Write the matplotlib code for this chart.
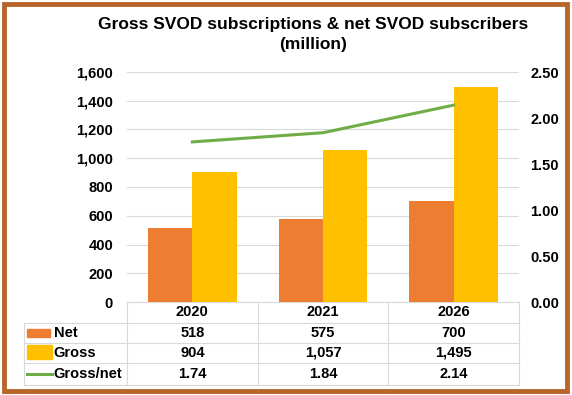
import matplotlib.pyplot as plt
import numpy as np
from matplotlib.patches import Rectangle
from matplotlib.lines import Line2D

plt.rcParams['font.family'] = ['Liberation Sans', 'DejaVu Sans']
plt.rcParams['font.weight'] = 'bold'

years = ["2020", "2021", "2026"]
net = [518, 575, 700]
gross = [904, 1057, 1495]
ratio = [1.74, 1.84, 2.14]
row_names = ["Net", "Gross", "Gross/net"]

c_net = "#ED7D31"
c_gross = "#FFC000"
c_ratio = "#70AD47"
c_grid = "#D9D9D9"

W, H = 572, 395
fig = plt.figure(figsize=(W / 100, H / 100), dpi=100)

# frame around the whole chart
fig.patches.append(Rectangle((4 / W, 4 / H), (W - 9) / W, (H - 8) / H,
                             transform=fig.transFigure, fill=False,
                             edgecolor="#B8652A", linewidth=3.5))

fig.text(313 / W, 1 - 24 / H, "Gross SVOD subscriptions & net SVOD subscribers",
         ha="center", va="center", fontsize=12.5, fontweight="bold")
fig.text(313 / W, 1 - 45 / H, "(million)", ha="center", va="center",
         fontsize=12.5, fontweight="bold")

left, right, top, bottom = 127, 519, 72, 302
ax = fig.add_axes([left / W, 1 - bottom / H, (right - left) / W, (bottom - top) / H])
ax2 = ax.twinx()

x = np.arange(len(years))
bw = 0.34
ax.bar(x - bw / 2, net, width=bw, color=c_net, zorder=3)
ax.bar(x + bw / 2, gross, width=bw, color=c_gross, zorder=3)
ax2.plot(x, ratio, color=c_ratio, linewidth=2.2)

ax.set_xlim(-0.5, 2.5)
ax.set_ylim(0, 1600)
ax.set_yticks(np.arange(0, 1601, 200))
ax.set_yticklabels([f"{v:,}" for v in range(0, 1601, 200)])
ax2.set_ylim(0, 2.5)
ax2.set_yticks(np.arange(0, 2.51, 0.5))
ax2.set_yticklabels([f"{v:.2f}" for v in np.arange(0, 2.51, 0.5)])
ax.grid(axis="y", color=c_grid, linewidth=0.8, zorder=0)
ax.set_xticks([])
for a in (ax, ax2):
    for s in a.spines.values():
        s.set_visible(False)
    a.tick_params(axis="y", length=0, labelsize=10.5)
ax.tick_params(axis="y", pad=10)
ax2.tick_params(axis="y", pad=8)

# data table below the plot
tr = ax.get_xaxis_transform()
row_y = [0, -0.0913, -0.178, -0.265, -0.361]
label_left = -1.29
kw = dict(color=c_grid, linewidth=0.8, transform=tr, clip_on=False)
ax.add_line(Line2D([-0.5, 2.5], [0, 0], **kw))
for yy in row_y[1:]:
    ax.add_line(Line2D([label_left, 2.5], [yy, yy], **kw))
for xx in [-0.5, 0.5, 1.5, 2.5]:
    ax.add_line(Line2D([xx, xx], [0, row_y[-1]], **kw))
ax.add_line(Line2D([label_left, label_left], [row_y[1], row_y[-1]], **kw))

centers = [(row_y[i] + row_y[i + 1]) / 2 for i in range(4)]
for i, yr in enumerate(years):
    ax.text(i, centers[0], yr, transform=tr, ha="center", va="center",
            fontsize=10.5, fontweight="bold")
for r, vals in enumerate([net, gross, ratio]):
    for i, v in enumerate(vals):
        s = f"{v:.2f}" if r == 2 else f"{v:,}"
        ax.text(i, centers[r + 1], s, transform=tr, ha="center", va="center",
                fontsize=10.5, fontweight="bold")

# legend keys inside the row label cells
ftr = fig.transFigure
fig.patches.append(Rectangle((27 / W, 1 - 337 / H), 23 / W, 8 / H, transform=ftr,
                             color=c_net))
fig.patches.append(Rectangle((27 / W, 1 - 359 / H), 25 / W, 14 / H, transform=ftr,
                             color=c_gross))
fig.lines.append(Line2D([27 / W, 52 / W], [1 - 374 / H, 1 - 374 / H], transform=ftr,
                        color=c_ratio, linewidth=2.2))
for r, name in enumerate(row_names):
    ax.text(label_left + 0.23, centers[r + 1], name, transform=tr, ha="left",
            va="center", fontsize=10.5, fontweight="bold")

fig.savefig("out.png", dpi=100)
